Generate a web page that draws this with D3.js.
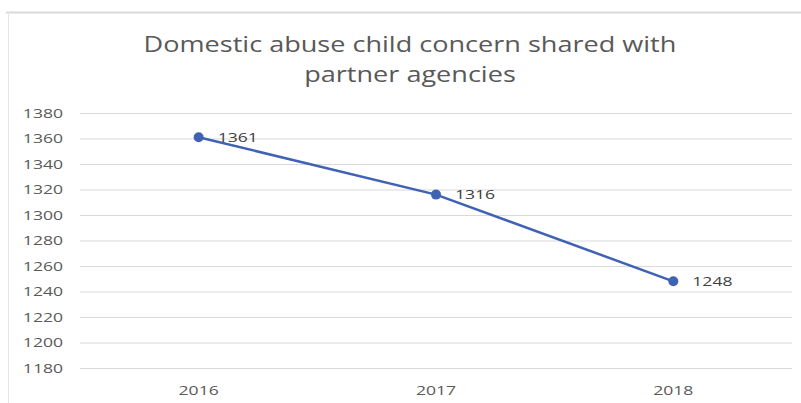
<!DOCTYPE html>
<html><head><meta charset="utf-8">
<script src="https://cdn.jsdelivr.net/npm/d3@7"></script>
<style>html,body{margin:0;padding:0;background:#fff;}</style>
</head><body><svg id="c" width="801" height="403"></svg>
<script>
const categories = ["2016", "2017", "2018"];
const values = [1361, 1316, 1248];
const yTicks = [1180, 1200, 1220, 1240, 1260, 1280, 1300, 1320, 1340, 1360, 1380];
const titleLines = ["Domestic abuse child concern shared with", "partner agencies"];

(function(){
const svg = d3.select("#c");
const font = "'Open Sans', sans-serif";
const stretch = function(sel, k){ sel.each(function(){ const w = this.getComputedTextLength(); d3.select(this).attr("textLength", w*k).attr("lengthAdjust","spacingAndGlyphs"); }); };
// frame
svg.append("line").attr("x1",6).attr("x2",801).attr("y1",12.5).attr("y2",12.5).attr("stroke","#d9d9d9").attr("stroke-width",2);
svg.append("line").attr("x1",8.5).attr("x2",8.5).attr("y1",12).attr("y2",403).attr("stroke","#e6e6e6").attr("stroke-width",1);

const mLeft = 80, mRight = 792, mTop = 113, mBottom = 368;
const x = d3.scaleBand().domain(categories).range([mLeft, mRight]);
const y = d3.scaleLinear().domain([1180, 1380]).range([mBottom, mTop]);

// title
svg.append("g").selectAll("text").data(titleLines).join("text")
  .attr("x", 410).attr("y", (d,i)=>52 + i*30)
  .attr("text-anchor","middle").attr("font-family",font).attr("font-size",22)
  .attr("fill","#595959").text(d=>d).call(stretch, 1.23);

// grid
const yAxis = d3.axisLeft(y).tickValues(yTicks).tickSize(-(mRight-mLeft)).tickPadding(17).tickFormat(d3.format("d"));
const gy = svg.append("g").attr("transform",`translate(${mLeft},0)`).call(yAxis);
gy.select(".domain").remove();
gy.selectAll(".tick line").attr("stroke","#d9d9d9").attr("stroke-width",1);
gy.selectAll(".tick text").attr("font-family",font).attr("font-size",13.5).attr("fill","#595959").call(stretch, 1.3);

const xAxis = d3.axisBottom(x).tickSize(0).tickPadding(17);
const gx = svg.append("g").attr("transform",`translate(0,${mBottom})`).call(xAxis);
gx.select(".domain").remove();
gx.selectAll(".tick text").attr("font-family",font).attr("font-size",13.5).attr("fill","#595959").call(stretch, 1.3);

const data = categories.map((c,i)=>({c, v: values[i]}));
const cx = d => x(d.c) + x.bandwidth()/2;
svg.append("path").datum(data)
  .attr("d", d3.line().x(cx).y(d=>y(d.v)))
  .attr("fill","none").attr("stroke","#4062b5").attr("stroke-width",2.5);
svg.append("g").selectAll("circle").data(data).join("circle")
  .attr("cx",cx).attr("cy",d=>y(d.v)).attr("r",5).attr("fill","#4062b5");
svg.append("g").selectAll("text").data(data).join("text")
  .attr("x",d=>cx(d)+19).attr("y",d=>y(d.v)).attr("dy","0.35em")
  .attr("font-family",font).attr("font-size",13.5).attr("fill","#404040").text(d=>d.v).call(stretch, 1.3);
})();
</script></body></html>
